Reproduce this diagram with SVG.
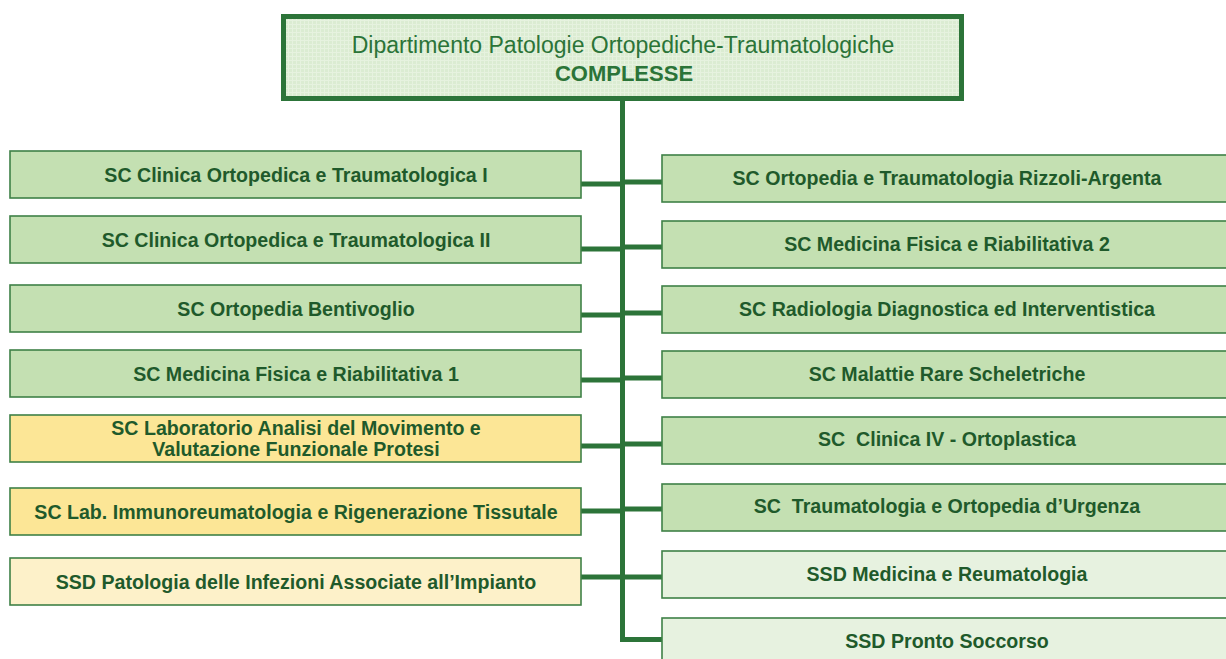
<svg xmlns="http://www.w3.org/2000/svg" width="1226" height="659" viewBox="0 0 1226 659">
<defs>
<pattern id="grid" width="4" height="4" patternUnits="userSpaceOnUse">
<rect width="4" height="4" fill="#dbecd2"/>
<path d="M0 0.5H4M0.5 0V4" stroke="#e6f2df" stroke-width="1"/>
</pattern>
</defs>
<style>
.box{stroke:#3f8147;stroke-width:1.6}
.g{fill:#c4e0b2}
.y{fill:#fce696}
.ly{fill:#fdf1c9}
.lg{fill:#e7f2e0}
.t{font-family:"Liberation Sans",Arial,Helvetica,sans-serif;font-weight:bold;font-size:19.6px;fill:#1f5a2b;text-anchor:middle}
.conn{stroke:#2c7439;stroke-width:5;fill:none}
</style>
<rect width="1226" height="659" fill="#ffffff"/>
<g id="connectors">
<path class="conn" d="M622.5 100V639.5H662"/>
<path class="conn" d="M581 184H622.5M581 249H622.5M581 315H622.5M581 380H622.5M581 446H622.5M581 511H622.5M581 577H622.5"/>
<path class="conn" d="M622.5 182H662M622.5 247H662M622.5 313H662M622.5 378H662M622.5 444H662M622.5 509H662M622.5 577H662"/>
</g>
<g id="top">
<rect x="283.5" y="16.5" width="678" height="82" fill="url(#grid)" stroke="#2c7439" stroke-width="5"/>
<text x="623" y="53" font-family="Liberation Sans,Arial,sans-serif" font-size="23" fill="#2b7438" text-anchor="middle">Dipartimento Patologie Ortopediche-Traumatologiche</text>
<text x="624" y="80.5" font-family="Liberation Sans,Arial,sans-serif" font-size="22" font-weight="bold" fill="#2b7438" text-anchor="middle">COMPLESSE</text>
</g>
<g id="L1"><rect class="box g" x="10" y="151" width="571" height="47"/><text class="t" x="296" y="181.5">SC Clinica Ortopedica e Traumatologica I</text></g>
<g id="L2"><rect class="box g" x="10" y="216" width="571" height="47"/><text class="t" x="296" y="246.5">SC Clinica Ortopedica e Traumatologica II</text></g>
<g id="L3"><rect class="box g" x="10" y="285" width="571" height="47"/><text class="t" x="296" y="315.5">SC Ortopedia Bentivoglio</text></g>
<g id="L4"><rect class="box g" x="10" y="350" width="571" height="47"/><text class="t" x="296" y="380.5">SC Medicina Fisica e Riabilitativa 1</text></g>
<g id="L5"><rect class="box y" x="10" y="415" width="571" height="47"/><text class="t" x="296" y="435">SC Laboratorio Analisi del Movimento e</text><text class="t" x="296" y="456">Valutazione Funzionale Protesi</text></g>
<g id="L6"><rect class="box y" x="10" y="488" width="571" height="47"/><text class="t" x="296" y="518.5">SC Lab. Immunoreumatologia e Rigenerazione Tissutale</text></g>
<g id="L7"><rect class="box ly" x="10" y="558" width="571" height="47"/><text class="t" x="296" y="588.5">SSD Patologia delle Infezioni Associate all’Impianto</text></g>
<g id="R1"><rect class="box g" x="662" y="155" width="572" height="47"/><text class="t" x="947" y="185">SC Ortopedia e Traumatologia Rizzoli-Argenta</text></g>
<g id="R2"><rect class="box g" x="662" y="221" width="572" height="47"/><text class="t" x="947" y="250.5">SC Medicina Fisica e Riabilitativa 2</text></g>
<g id="R3"><rect class="box g" x="662" y="286" width="572" height="47"/><text class="t" x="947" y="316">SC Radiologia Diagnostica ed Interventistica</text></g>
<g id="R4"><rect class="box g" x="662" y="351" width="572" height="47"/><text class="t" x="947" y="381">SC Malattie Rare Scheletriche</text></g>
<g id="R5"><rect class="box g" x="662" y="417" width="572" height="47"/><text class="t" x="947" y="446" xml:space="preserve">SC  Clinica IV - Ortoplastica</text></g>
<g id="R6"><rect class="box g" x="662" y="484" width="572" height="47"/><text class="t" x="947" y="512.5" xml:space="preserve">SC  Traumatologia e Ortopedia d’Urgenza</text></g>
<g id="R7"><rect class="box lg" x="662" y="551" width="572" height="47"/><text class="t" x="947" y="581">SSD Medicina e Reumatologia</text></g>
<g id="R8"><rect class="box lg" x="662" y="618" width="572" height="47"/><text class="t" x="947" y="648">SSD Pronto Soccorso</text></g>
</svg>
